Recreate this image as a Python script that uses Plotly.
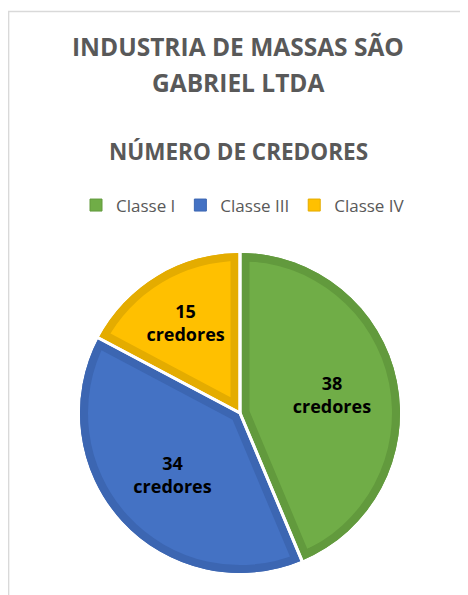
import math
import plotly.graph_objects as go

# ---- data ----
categories = ["Classe I", "Classe III", "Classe IV"]
credores = [38, 34, 15]
label_suffix = "credores"
title_lines = ["INDUSTRIA DE MASSAS SÃO", "GABRIEL LTDA"]
subtitle = "NÚMERO DE CREDORES"

# ---- style ----
light = ["#70AD47", "#4472C4", "#FFC000"]
dark = ["#629A3D", "#3C66B2", "#E4AC00"]
clear = "rgba(0,0,0,0)"
OFF = 8                      # page body margin
W, H = 468 - OFF, 595 - OFF  # figure size
CX, CY, R = 240 - OFF, 413 - OFF, 160
BAND = 8
GAP = 3
FONT = "Open Sans"
GREY = "#595959"
label_push = [13, 9, 0]      # extra outward offset of the label text, px


def dom(r):
    return dict(x=[max(0, (CX - r) / W), min(1, (CX + r) / W)],
                y=[max(0, 1 - (CY + r) / H), min(1, 1 - (CY - r) / H)])


def py(y_screen):
    return 1 - (y_screen - OFF) / H


common = dict(labels=categories, values=credores, sort=False, direction="clockwise",
              rotation=0, textinfo="none", hoverinfo="skip", showlegend=False)

fig = go.Figure()

# legend carrier (hidden under the rest)
fig.add_trace(go.Pie(**{**common, "showlegend": True}, domain=dom(R - 30),
                     marker=dict(colors=light, line=dict(color=dark, width=1))))
# dark base
fig.add_trace(go.Pie(**common, domain=dom(R), marker=dict(colors=dark, line=dict(width=0))))
# light inner wedges, one per slice, inset from the radial edges by pulling
total = sum(credores)
inset = BAND + GAP / 2
for k in range(len(credores)):
    half = math.pi * credores[k] / total
    p = inset / math.sin(half)
    D = R - 1
    rl = D - p
    pulls = [p / rl if i == k else 0 for i in range(len(credores))]
    cols = [light[i] if i == k else clear for i in range(len(credores))]
    fig.add_trace(go.Pie(**common, domain=dom(D), pull=pulls,
                         marker=dict(colors=cols, line=dict(width=0))))
# dark outer ring
fig.add_trace(go.Pie(**common, domain=dom(R), hole=(R - BAND) / R,
                     marker=dict(colors=dark, line=dict(width=0))))
# white separators
fig.add_trace(go.Pie(**common, domain=dom(R + 6),
                     marker=dict(colors=[clear] * 3, line=dict(color="white", width=GAP))))
# labels
mp = max(label_push)
fig.add_trace(go.Pie(labels=categories, values=credores, sort=False, direction="clockwise",
                     rotation=0, hoverinfo="skip", showlegend=False, domain=dom(R + mp),
                     pull=[lp / R for lp in label_push],
                     marker=dict(colors=[clear] * 3, line=dict(width=0)),
                     texttemplate="%{value}<br>" + label_suffix, textposition="inside",
                     insidetextorientation="horizontal",
                     textfont=dict(family=FONT, size=18, color="black", weight="bold")))

ann = []
for txt, yc, fs in [(title_lines[0], 46.5, 24.5), (title_lines[1], 82.5, 24.5), (subtitle, 152, 22.5)]:
    ann.append(dict(text=txt, x=0.5, xref="paper", xanchor="center", y=py(yc), yref="paper",
                    yanchor="middle", showarrow=False,
                    font=dict(family=FONT, size=fs, color=GREY, weight="bold")))

fig.update_layout(
    width=W, height=H, margin=dict(l=0, r=0, t=0, b=0),
    paper_bgcolor="white", plot_bgcolor="white",
    annotations=ann,
    legend=dict(orientation="h", x=(243 - OFF) / W, xanchor="center", y=py(205.5), yanchor="middle",
                font=dict(family=FONT, size=17, color=GREY), itemclick=False, itemdoubleclick=False),
    shapes=[dict(type="rect", xref="paper", yref="paper", x0=0.6 / W, x1=1.05, y0=-0.05,
                 y1=py(11.5), line=dict(color="#D9D9D9", width=1.5))],
)

fig.write_html("out.html")
